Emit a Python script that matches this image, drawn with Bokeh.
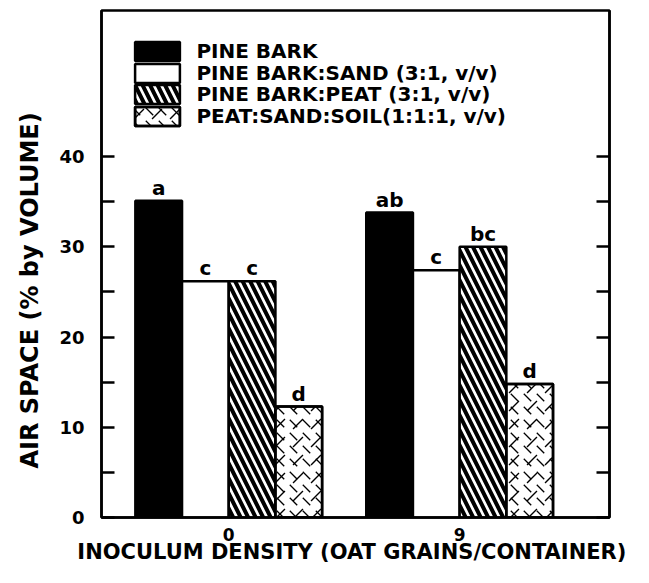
from bokeh.plotting import figure
from bokeh.models import (Range1d, FixedTicker, LinearAxis, Legend, LegendItem,
                          LabelSet, Title, ColumnDataSource, CustomLabelingPolicy)
from bokeh.core.properties import value
from bokeh.embed import file_html
from bokeh.resources import INLINE

# ---------------- data ----------------
densities = ["0", "9"]
series_names = ["PINE BARK", "PINE BARK:SAND (3:1, v/v)",
                "PINE BARK:PEAT (3:1, v/v)", "PEAT:SAND:SOIL(1:1:1, v/v)"]
pine_bark = [35.1, 33.8]
pine_bark_sand = [26.2, 27.4]
pine_bark_peat = [26.2, 30.0]
peat_sand_soil = [12.3, 14.8]
letters_pine_bark = ["a", "ab"]
letters_pine_bark_sand = ["c", "c"]
letters_pine_bark_peat = ["c", "bc"]
letters_peat_sand_soil = ["d", "d"]
y_ticks = [0, 10, 20, 30, 40]
y_minor_ticks = [5, 15, 25, 35]
y_title = "AIR  SPACE  (% by VOLUME)"
x_title = "INOCULUM  DENSITY (OAT GRAINS/CONTAINER)"

values = [pine_bark, pine_bark_sand, pine_bark_peat, peat_sand_soil]
letters = [letters_pine_bark, letters_pine_bark_sand, letters_pine_bark_peat,
           letters_peat_sand_soil]

FONT = "DejaVu Sans"
BAR_W = 0.2022
LW = 2.5

p = figure(width=633, height=567, output_backend="svg", toolbar_location=None,
           x_range=Range1d(-0.551, 1.649), y_range=Range1d(0, 56.2),
           min_border_left=101, min_border_right=24, min_border_top=10,
           min_border_bottom=50)
p.grid.visible = False
p.outline_line_color = "black"
p.outline_line_width = LW
p.background_fill_color = "white"
p.border_fill_color = "white"

styles = [
    [dict(fill_color="black")],
    [dict(fill_color="white")],
    [dict(fill_color="white", hatch_pattern="left_diagonal_line",
          hatch_color="black", hatch_weight=4, hatch_scale=15)],
    [dict(fill_color="white", hatch_pattern="left_diagonal_dash",
          hatch_color="black", hatch_weight=1.3, hatch_scale=13),
     dict(fill_color=None, hatch_pattern="right_diagonal_dash",
          hatch_color="black", hatch_weight=1.3, hatch_scale=18)],
]

xs_idx = list(range(len(densities)))
items = []
lab_x, lab_y, lab_t = [], [], []
for k, (name, vals, lets, sty) in enumerate(zip(series_names, values, letters, styles)):
    off = (k - 1.5) * BAR_W
    xs = [i + off for i in xs_idx]
    src = ColumnDataSource(dict(x=xs, top=vals))
    rs = []
    for s in sty:
        r = p.vbar(x="x", top="top", bottom=0, width=BAR_W, source=src,
                   line_color="black", line_width=LW, **s)
        rs.append(r)
    items.append(LegendItem(label=name, renderers=rs))
    lab_x += xs
    lab_y += vals
    lab_t += lets

labels = LabelSet(x="x", y="y", text="t",
                  source=ColumnDataSource(dict(x=lab_x, y=lab_y, t=lab_t)),
                  text_align="center", text_baseline="alphabetic", y_offset=6,
                  text_font=value(FONT), text_font_style="bold",
                  text_font_size="20px", text_color="black")
p.add_layout(labels)

# legend: one box per entry so the rows can be packed tightly like the original
ROW_PITCH = 21.7
ROW_H = 24
first_row_top = 39
for k, item in enumerate(items):
    row_top = first_row_top + k * ROW_PITCH
    lg = Legend(items=[item], location=(28.4, 517 - (row_top + ROW_H)),
                padding=0, margin=0, spacing=0, glyph_width=56,
                glyph_height=ROW_H, label_height=ROW_H, label_standoff=11,
                border_line_color=None, background_fill_alpha=0,
                label_text_font=FONT, label_text_font_style="bold",
                label_text_font_size="20px", label_text_color="black")
    p.add_layout(lg, "center")

# y axis (left)
ya = p.yaxis[0]
ya.ticker = FixedTicker(ticks=y_ticks, minor_ticks=y_minor_ticks)
ya.major_tick_in = 13
ya.major_tick_out = 0
ya.minor_tick_in = 13
ya.minor_tick_out = 0
ya.axis_line_width = LW
ya.major_tick_line_width = LW
ya.minor_tick_line_width = LW
ya.major_label_standoff = 17
ya.major_label_text_font = FONT
ya.major_label_text_font_style = "bold"
ya.major_label_text_font_size = "18px"
ya.major_label_text_color = "black"

# y axis title (sits lower than the frame centre, as in the original)
ytitle = Title(text=y_title, align="left", offset=49, standoff=26,
               vertical_align="bottom", text_font=FONT, text_font_style="bold",
               text_font_size="24px", text_color="black")
p.add_layout(ytitle, "left")

# right axis (ticks only)
ra = LinearAxis(ticker=FixedTicker(ticks=y_ticks, minor_ticks=y_minor_ticks),
                major_tick_in=13, major_tick_out=0, minor_tick_in=13,
                minor_tick_out=0, axis_line_width=LW, major_tick_line_width=LW,
                minor_tick_line_width=LW, major_label_text_font_size="8px",
                major_label_standoff=0,
                major_label_policy=CustomLabelingPolicy(code="""
const ids = Array.from(indices)
for (const i of ids) indices.unset(i)
return indices
"""))
p.add_layout(ra, "right")

# x axis
xa = p.xaxis[0]
xa.ticker = FixedTicker(ticks=xs_idx)
xa.major_label_overrides = {i: d for i, d in zip(xs_idx, densities)}
xa.major_tick_in = 0
xa.major_tick_out = 0
xa.minor_tick_in = 0
xa.minor_tick_out = 0
xa.axis_line_width = LW
xa.major_label_standoff = 10
xa.major_label_text_font = FONT
xa.major_label_text_font_style = "bold"
xa.major_label_text_font_size = "17px"
xa.major_label_text_color = "black"
xa.axis_label = x_title
xa.axis_label_standoff = -4
xa.axis_label_text_font = FONT
xa.axis_label_text_font_style = "bold"
xa.axis_label_text_font_size = "21px"
xa.axis_label_text_color = "black"

open("out.html", "w").write(file_html(p, INLINE))
